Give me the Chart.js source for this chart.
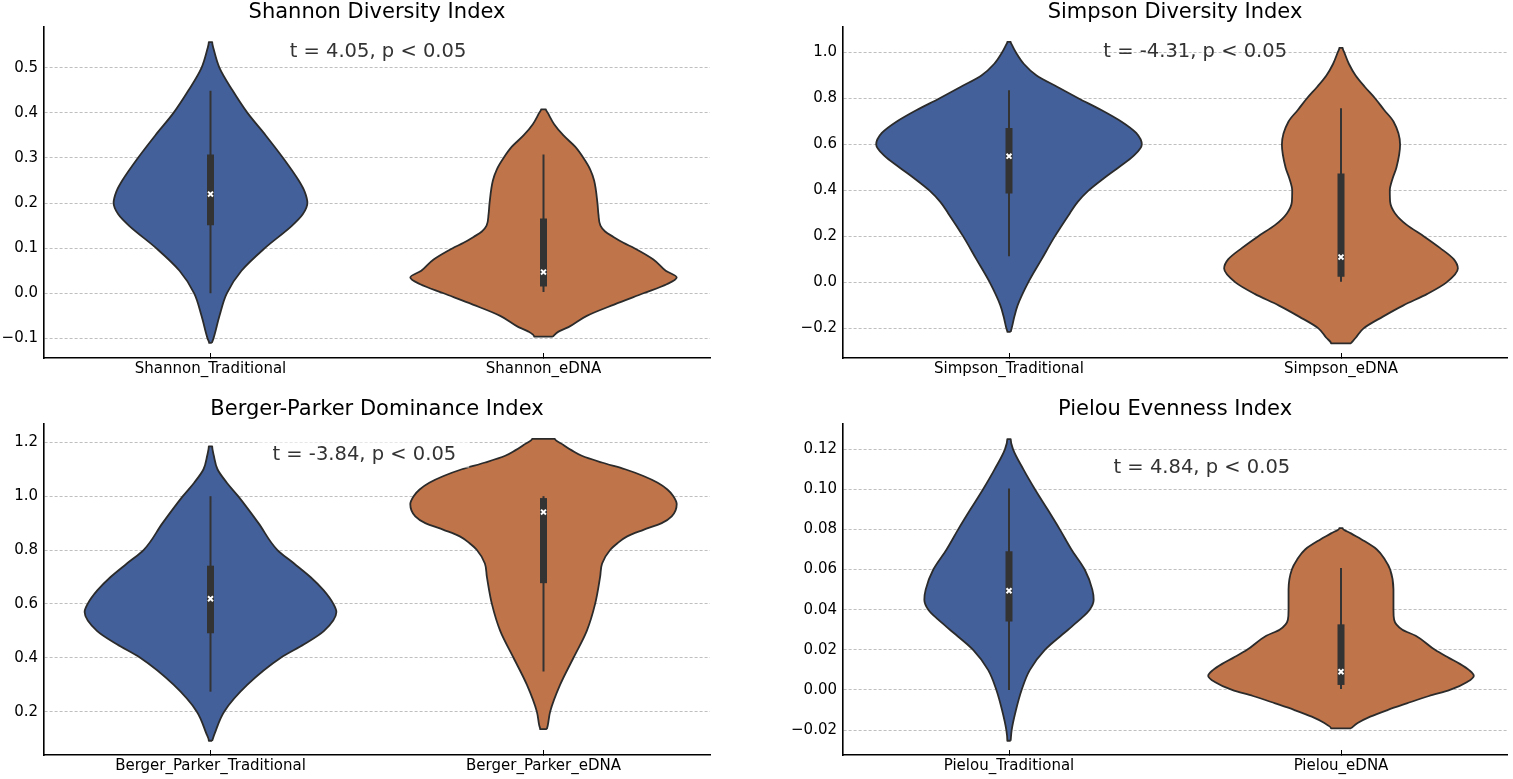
<!DOCTYPE html>
<html>
<head>
<meta charset="utf-8">
<title>Índices de diversidad</title>
<script src="https://cdn.jsdelivr.net/npm/chart.js@4.4.1/dist/chart.umd.min.js"></script>
<style>
    body { margin: 0; background: #fff; }
    #figura { position: relative; width: 1513px; height: 779px; overflow: hidden; }
    #figura canvas { position: absolute; }
</style>
</head>
<body>
<div id="figura">
    <canvas id="shannonChart" width="756" height="389" style="left:0px;top:0px"></canvas>
    <canvas id="simpsonChart" width="757" height="389" style="left:756px;top:0px"></canvas>
    <canvas id="bergerChart" width="756" height="389" style="left:0px;top:390px"></canvas>
    <canvas id="pielouChart" width="757" height="389" style="left:756px;top:390px"></canvas>
</div>
<script>
// ---- Datos ----

// Shannon
const shannonTitulo = 'Shannon Diversity Index';
const shannonCategorias = ['Shannon_Traditional', 'Shannon_eDNA'];
const shannonTexto = 't = 4.05, p < 0.05';
const shannonTicks = [-0.1, 0.0, 0.1, 0.2, 0.3, 0.4, 0.5];
const shannonLimites = [-0.1435, 0.590];
// contorno: valor del indice y semiancho (unidades del eje x)
const shannonTradY     = [-0.110, -0.100, -0.050, 0.000, 0.050, 0.100, 0.150, 0.175, 0.200, 0.225, 0.250, 0.300, 0.350, 0.400, 0.450, 0.500, 0.540, 0.557];
const shannonTradAncho = [ 0.004,  0.009,  0.027, 0.049, 0.093, 0.163, 0.245, 0.277, 0.291, 0.283, 0.265, 0.218, 0.166, 0.111, 0.066, 0.027, 0.010, 0.005];
const shannonEdnaY     = [-0.096, -0.085, -0.075, -0.050, -0.025, 0.000, 0.020, 0.035, 0.050, 0.075, 0.100, 0.112, 0.125, 0.137, 0.150, 0.175, 0.200, 0.250, 0.275, 0.300, 0.325, 0.350, 0.375, 0.400, 0.408];
const shannonEdnaAncho = [ 0.028,  0.045,  0.075,  0.130,  0.212, 0.300, 0.370, 0.400, 0.367, 0.330, 0.273, 0.240, 0.210, 0.185, 0.171, 0.165, 0.162, 0.152, 0.140, 0.120, 0.095, 0.060, 0.032, 0.013, 0.007];
// caja: [bigote inferior, q1, mediana, q3, bigote superior]
const shannonTradCaja = [0.000, 0.151, 0.220, 0.308, 0.449];
const shannonEdnaCaja = [0.003, 0.015, 0.047, 0.166, 0.308];

// Simpson
const simpsonTitulo = 'Simpson Diversity Index';
const simpsonCategorias = ['Simpson_Traditional', 'Simpson_eDNA'];
const simpsonTexto = 't = -4.31, p < 0.05';
const simpsonTicks = [-0.2, 0.0, 0.2, 0.4, 0.6, 0.8, 1.0];
const simpsonLimites = [-0.329, 1.110];
const simpsonTradY     = [-0.215, -0.200, -0.150, -0.100, 0.000, 0.100, 0.200, 0.300, 0.350, 0.400, 0.450, 0.500, 0.550, 0.600, 0.650, 0.700, 0.750, 0.800, 0.850, 0.900, 0.950, 1.000, 1.030, 1.046];
const simpsonTradAncho = [ 0.005,  0.008,  0.016,  0.026, 0.058, 0.098, 0.138, 0.183, 0.207, 0.240, 0.283, 0.330, 0.375, 0.400, 0.383, 0.338, 0.278, 0.210, 0.146, 0.083, 0.045, 0.021, 0.010, 0.005];
const simpsonEdnaY     = [-0.265, -0.240, -0.200, -0.150, -0.100, -0.050, 0.000, 0.060, 0.100, 0.150, 0.200, 0.250, 0.300, 0.350, 0.400, 0.450, 0.500, 0.600, 0.700, 0.750, 0.800, 0.850, 0.900, 0.950, 1.000, 1.020];
const simpsonEdnaAncho = [ 0.030,  0.045,  0.068,  0.125,  0.188,  0.260, 0.318, 0.352, 0.340, 0.298, 0.250, 0.198, 0.163, 0.148, 0.147, 0.155, 0.167, 0.178, 0.158, 0.130, 0.103, 0.072, 0.044, 0.024, 0.010, 0.005];
const simpsonTradCaja = [0.114, 0.387, 0.549, 0.672, 0.836];
const simpsonEdnaCaja = [0.003, 0.024, 0.110, 0.474, 0.757];

// Berger-Parker
const bergerTitulo = 'Berger-Parker Dominance Index';
const bergerCategorias = ['Berger_Parker_Traditional', 'Berger_Parker_eDNA'];
const bergerTexto = 't = -3.84, p < 0.05';
const bergerTicks = [0.2, 0.4, 0.6, 0.8, 1.0, 1.2];
const bergerLimites = [0.039, 1.268];
const bergerTradY     = [0.092, 0.120, 0.200, 0.300, 0.400, 0.450, 0.500, 0.570, 0.600, 0.650, 0.700, 0.750, 0.800, 0.900, 1.000, 1.050, 1.100, 1.150, 1.185];
const bergerTradAncho = [0.005, 0.013, 0.041, 0.111, 0.211, 0.281, 0.341, 0.378, 0.369, 0.340, 0.300, 0.251, 0.201, 0.144, 0.083, 0.049, 0.021, 0.010, 0.005];
const bergerEdnaY     = [0.135, 0.150, 0.200, 0.300, 0.400, 0.500, 0.600, 0.700, 0.750, 0.800, 0.825, 0.850, 0.875, 0.900, 0.925, 0.970, 1.000, 1.025, 1.050, 1.075, 1.100, 1.125, 1.150, 1.170, 1.190, 1.213];
const bergerEdnaAncho = [0.010, 0.013, 0.020, 0.050, 0.090, 0.130, 0.155, 0.170, 0.176, 0.200, 0.222, 0.250, 0.300, 0.355, 0.385, 0.400, 0.390, 0.372, 0.343, 0.300, 0.245, 0.175, 0.115, 0.085, 0.060, 0.034];
const bergerTradCaja = [0.274, 0.491, 0.619, 0.742, 1.000];
const bergerEdnaCaja = [0.349, 0.677, 0.941, 0.993, 1.000];

// Pielou
const pielouTitulo = 'Pielou Evenness Index';
const pielouCategorias = ['Pielou_Traditional', 'Pielou_eDNA'];
const pielouTexto = 't = 4.84, p < 0.05';
const pielouTicks = [-0.02, 0.00, 0.02, 0.04, 0.06, 0.08, 0.10, 0.12];
const pielouLimites = [-0.0324, 0.1325];
const pielouTradY     = [-0.0253, -0.020, -0.010, 0.000, 0.010, 0.020, 0.030, 0.035, 0.040, 0.045, 0.050, 0.060, 0.070, 0.080, 0.090, 0.100, 0.110, 0.120, 0.125];
const pielouTradAncho = [ 0.005,   0.008,  0.021, 0.038, 0.063, 0.108, 0.178, 0.213, 0.243, 0.255, 0.251, 0.228, 0.188, 0.153, 0.116, 0.078, 0.043, 0.012, 0.005];
const pielouEdnaY     = [-0.0191, -0.0165, -0.0133, -0.010, -0.0067, -0.003, 0.000, 0.004, 0.007, 0.010, 0.013, 0.016, 0.020, 0.027, 0.030, 0.035, 0.040, 0.050, 0.060, 0.065, 0.070, 0.075, 0.078, 0.0806];
const pielouEdnaAncho = [ 0.030,   0.050,   0.088,   0.140,  0.198,  0.265, 0.328, 0.380, 0.400, 0.385, 0.358, 0.325, 0.283, 0.225, 0.185, 0.160, 0.158, 0.158, 0.148, 0.132, 0.108, 0.062, 0.030, 0.005];
const pielouTradCaja = [0.000, 0.0341, 0.0494, 0.0691, 0.1004];
const pielouEdnaCaja = [0.0005, 0.0025, 0.0091, 0.0327, 0.0607];

// ---- Estilo ----
const colorTradicional = '#44609a';
const colorEdna = '#c07449';
const colorContorno = '#2b2b2b';
const colorCaja = '#333333';
const fuente = '"DejaVu Sans", "Liberation Sans", sans-serif';

// Texto del t-test, dibujado en coordenadas de los ejes
const textoEstadistico = {
    id: 'textoEstadistico',
    afterDraw(chart, args, opts) {
        const ctx = chart.ctx;
        const x = chart.scales.x.getPixelForValue(opts.x);
        const y = chart.scales.y.getPixelForValue(opts.y);
        ctx.save();
        ctx.font = '19.5px ' + fuente;
        ctx.textAlign = 'center';
        ctx.textBaseline = 'middle';
        if (opts.caja) {
            const ancho = ctx.measureText(opts.texto).width;
            ctx.fillStyle = 'rgba(255,255,255,0.6)';
            ctx.fillRect(x - ancho / 2 - 13, y - 15, ancho + 26, 28);
        }
        ctx.fillStyle = '#333333';
        ctx.fillText(opts.texto, x, y);
        ctx.restore();
    }
};

function contornoViolin(posicion, ys, anchos) {
    const derecha = ys.map((y, i) => ({ x: posicion + anchos[i], y: y }));
    const izquierda = ys.map((y, i) => ({ x: posicion - anchos[i], y: y })).reverse();
    const puntos = derecha.concat(izquierda);
    puntos.push(puntos[0]); // cerrar el contorno
    return puntos;
}

function datasetsViolin(posicion, ys, anchos, caja, color) {
    return [
        {
            data: [{ x: posicion, y: caja[2] }],
            pointStyle: 'crossRot',
            pointRadius: 3.5,
            pointBorderColor: '#ffffff',
            pointBackgroundColor: '#ffffff',
            pointBorderWidth: 2,
            order: 1
        },
        {
            data: [{ x: posicion, y: caja[1] }, { x: posicion, y: caja[3] }],
            showLine: true,
            borderColor: colorCaja,
            borderWidth: 7,
            borderCapStyle: 'butt',
            pointRadius: 0,
            order: 2
        },
        {
            data: [{ x: posicion, y: caja[0] }, { x: posicion, y: caja[4] }],
            showLine: true,
            borderColor: colorCaja,
            borderWidth: 2,
            borderCapStyle: 'butt',
            pointRadius: 0,
            order: 3
        },
        {
            // contorno vertical: la curva se suaviza a lo largo del eje y
            data: contornoViolin(posicion, ys, anchos),
            indexAxis: 'y',
            showLine: true,
            fill: 'shape',
            backgroundColor: color,
            borderColor: colorContorno,
            borderWidth: 1.8,
            borderJoinStyle: 'round',
            pointRadius: 0,
            cubicInterpolationMode: 'monotone',
            order: 4
        }
    ];
}

function crearGrafica(idCanvas, p) {
    const ctx = document.getElementById(idCanvas).getContext('2d');
    const datasets = datasetsViolin(0, p.tradY, p.tradAncho, p.tradCaja, colorTradicional)
        .concat(datasetsViolin(1, p.ednaY, p.ednaAncho, p.ednaCaja, colorEdna));

    return new Chart(ctx, {
        type: 'scatter',
        data: { datasets: datasets },
        plugins: [textoEstadistico],
        options: {
            responsive: false,
            animation: false,
            events: [],
            layout: { padding: { left: 0, right: p.margenDerecho, top: 0, bottom: 0 } },
            plugins: {
                legend: { display: false },
                tooltip: { enabled: false },
                title: {
                    display: true,
                    text: p.titulo,
                    fullSize: false,
                    color: '#000000',
                    font: { family: fuente, size: 21, weight: 'normal' },
                    padding: { top: p.margenTitulo, bottom: 2 }
                },
                textoEstadistico: { texto: p.texto, x: p.textoX, y: p.textoY, caja: p.textoCaja }
            },
            scales: {
                x: {
                    type: 'linear',
                    min: -0.5,
                    max: 1.5,
                    afterBuildTicks: (eje) => { eje.ticks = p.categorias.map((c, i) => ({ value: i })); },
                    afterFit: (eje) => { eje.height = p.altoEjeX; },
                    ticks: {
                        autoSkip: false,
                        maxRotation: 0,
                        padding: 7,
                        color: '#000000',
                        font: { family: fuente, size: 15 },
                        callback: (valor) => p.categorias[valor]
                    },
                    grid: { drawOnChartArea: false, drawTicks: true, tickLength: -5, tickColor: '#000000', tickWidth: 1 },
                    border: { display: true, color: '#000000', width: 1.6 }
                },
                y: {
                    type: 'linear',
                    min: p.limites[0],
                    max: p.limites[1],
                    z: 1,
                    afterBuildTicks: (eje) => { eje.ticks = p.ticks.map(v => ({ value: v })); },
                    afterFit: (eje) => { eje.width = p.anchoEjeY; },
                    ticks: {
                        autoSkip: false,
                        padding: 6,
                        color: '#000000',
                        font: { family: fuente, size: 15 },
                        callback: (valor) => valor.toFixed(p.decimales).replace('-', '\u2212')
                    },
                    grid: { drawTicks: false, color: 'rgba(170,170,170,0.75)', lineWidth: 1 },
                    border: { display: true, color: '#000000', width: 1.6, dash: [3, 2] }
                }
            }
        }
    });
}

document.addEventListener('DOMContentLoaded', function() {
    crearGrafica('shannonChart', {
        titulo: shannonTitulo, categorias: shannonCategorias, texto: shannonTexto,
        ticks: shannonTicks, limites: shannonLimites, decimales: 1,
        tradY: shannonTradY, tradAncho: shannonTradAncho, tradCaja: shannonTradCaja,
        ednaY: shannonEdnaY, ednaAncho: shannonEdnaAncho, ednaCaja: shannonEdnaCaja,
        textoX: 0.503, textoY: 0.536, textoCaja: false,
        anchoEjeY: 44, margenDerecho: 46, margenTitulo: 0, altoEjeX: 31
    });
    crearGrafica('simpsonChart', {
        titulo: simpsonTitulo, categorias: simpsonCategorias, texto: simpsonTexto,
        ticks: simpsonTicks, limites: simpsonLimites, decimales: 1,
        tradY: simpsonTradY, tradAncho: simpsonTradAncho, tradCaja: simpsonTradCaja,
        ednaY: simpsonEdnaY, ednaAncho: simpsonEdnaAncho, ednaCaja: simpsonEdnaCaja,
        textoX: 0.561, textoY: 1.003, textoCaja: false,
        anchoEjeY: 87, margenDerecho: 3, margenTitulo: 0, altoEjeX: 31
    });
    crearGrafica('bergerChart', {
        titulo: bergerTitulo, categorias: bergerCategorias, texto: bergerTexto,
        ticks: bergerTicks, limites: bergerLimites, decimales: 1,
        tradY: bergerTradY, tradAncho: bergerTradAncho, tradCaja: bergerTradCaja,
        ednaY: bergerEdnaY, ednaAncho: bergerEdnaAncho, ednaCaja: bergerEdnaCaja,
        textoX: 0.462, textoY: 1.154, textoCaja: true,
        anchoEjeY: 44, margenDerecho: 46, margenTitulo: 6.8, altoEjeX: 24
    });
    crearGrafica('pielouChart', {
        titulo: pielouTitulo, categorias: pielouCategorias, texto: pielouTexto,
        ticks: pielouTicks, limites: pielouLimites, decimales: 2,
        tradY: pielouTradY, tradAncho: pielouTradAncho, tradCaja: pielouTradCaja,
        ednaY: pielouEdnaY, ednaAncho: pielouEdnaAncho, ednaCaja: pielouEdnaCaja,
        textoX: 0.581, textoY: 0.1107, textoCaja: false,
        anchoEjeY: 87, margenDerecho: 3, margenTitulo: 6.8, altoEjeX: 24
    });
});
</script>
</body>
</html>
